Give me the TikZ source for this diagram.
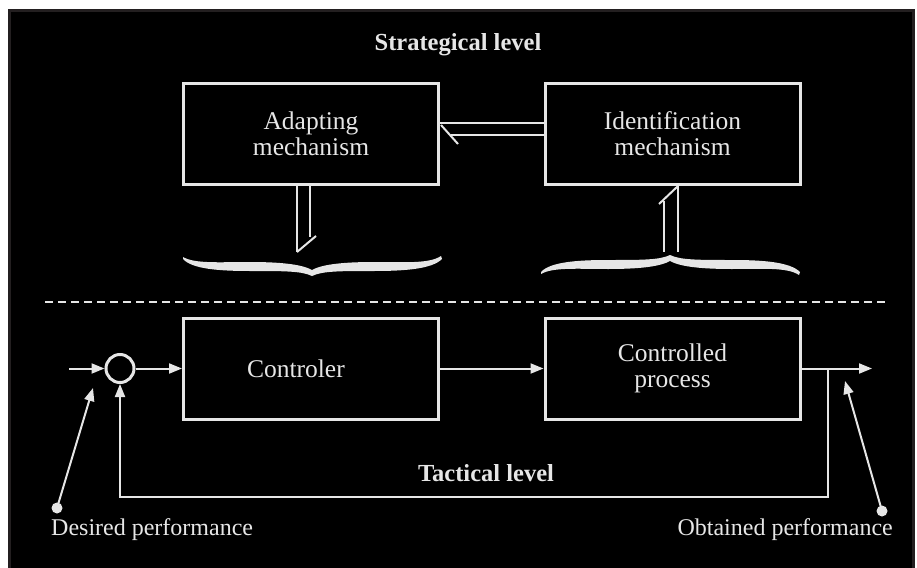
\documentclass[tikz,border=0pt]{standalone}
\usepackage{fontspec}
\setmainfont{Liberation Serif}
\usetikzlibrary{arrows.meta,calc}
\definecolor{fg}{HTML}{E6E6E6}
\definecolor{frame}{HTML}{231F20}
\begin{document}
\begin{tikzpicture}[x=1pt,y=-1pt,
  box/.style={draw=fg,line width=3pt,minimum width=255pt,minimum height=101pt,inner sep=0pt,text=fg,align=center,font=\fontsize{25.5}{26}\selectfont},
  conn/.style={draw=fg,line width=2pt},
  arr/.style={conn,-{Triangle[length=13pt,width=10pt]}},
  lbl/.style={text=fg,font=\fontsize{24}{27}\selectfont,inner sep=0pt},
  head/.style={text=fg,font=\bfseries\fontsize{24.5}{27}\selectfont,inner sep=0pt},
  dot/.style={circle,fill=fg,minimum size=11pt,inner sep=0pt}]
\useasboundingbox (0,0) rectangle (917,567);
\fill[white] (0,0) rectangle (917,567);
\fill[black,draw=frame,line width=3pt] (9.5,10.5) rectangle (913.5,570);
% headings
\node[head] (strat) at (458,45) {Strategical level};
\node[head] (tact) at (486,473) {Tactical level};
% boxes
\node[box] (adapt) at (311,134) {Adapting\\mechanism};
\node[box] (ident) at (672.5,134) {Identification\\mechanism};
\node[box,text width=128pt,align=left] (ctrl) at (311,368.5) {Controler};
\node[box] (proc) at (672.5,368.5) {Controlled\\process};
% double arrow ident -> adapt
\coordinate (h1) at (ident.west |- 0,123);
\coordinate (h2) at (ident.west |- 0,135);
\draw[conn] (h1) -- (h1 -| adapt.east);
\draw[conn] (h2) -- ++(-93,0);
\draw[conn] (h1 -| adapt.east) ++(1,2) -- ++(17,19);
% double arrow adapt -> brace
\coordinate (v1) at (adapt.south -| 297,0);
\coordinate (v2) at (adapt.south -| 310,0);
\draw[conn] (v1) -- ++(0,66) coordinate (v1e);
\draw[conn] (v2) -- ++(0,51);
\draw[conn] (v1e) -- ++(19,-16);
% double arrow brace -> ident
\coordinate (w1) at (ident.south -| 664,0);
\coordinate (w2) at (ident.south -| 678,0);
\draw[conn] (w1) ++(0,15) -- ++(0,51);
\draw[conn] (w2) -- ++(0,66);
\draw[conn] (w2) -- ++(-19,18);
% braces
\fill[fg] (183,257) .. controls (195,264) and (220,262) .. (250,262) .. controls (285,262) and (303,265) .. (312,270)
  .. controls (321,265) and (339,262) .. (374,262) .. controls (404,262) and (429,264) .. (441,256)
  -- (442,259) .. controls (432,269) and (405,271) .. (374,271) .. controls (340,271) and (322,271) .. (312,276)
  .. controls (302,271) and (284,271) .. (250,271) .. controls (219,271) and (192,269) .. (183,259) -- cycle;
\fill[fg] (541,274) .. controls (553,267) and (578,269) .. (608,269) .. controls (643,269) and (661,266) .. (670,261)
  .. controls (679,266) and (697,269) .. (732,269) .. controls (762,269) and (787,267) .. (799,275)
  -- (800,272) .. controls (790,262) and (763,260) .. (732,260) .. controls (698,260) and (680,260) .. (670,255)
  .. controls (660,260) and (642,260) .. (608,260) .. controls (577,260) and (550,262) .. (541,272) -- cycle;
% dashed separator
\coordinate (dl) at (45,302);
\coordinate (dr) at (885,302);
\draw[fg,line width=2pt,dash pattern=on 8pt off 5pt] (dl) -- (dr);
% loop
\node[circle,draw=fg,line width=3pt,minimum size=28pt,inner sep=0pt] (sum) at (120,368.5) {};
\coordinate (in) at (69,368.5);
\coordinate (out) at (872,368.5);
\coordinate (fb) at (828,368.5);
\draw[arr] (in) -- (sum.west);
\draw[arr] (sum.east) -- (ctrl.west);
\draw[arr] (ctrl.east) -- (proc.west);
\draw[arr] (proc.east) -- (out);
\draw[arr] (fb) -- ++(0,128.5) -| (sum.south);
% pointers
\node[dot] (dd) at (57,508) {};
\node[dot] (od) at (882,511) {};
\coordinate (ddtip) at (93,388);
\coordinate (odtip) at (845,381);
\draw[arr] (dd.center) -- (ddtip);
\draw[arr] (od.center) -- (odtip);
\node[lbl,anchor=west] (dp) at (51,530) {Desired performance};
\node[lbl,anchor=east] (op) at (893,530) {Obtained performance};
\end{tikzpicture}
\end{document}
